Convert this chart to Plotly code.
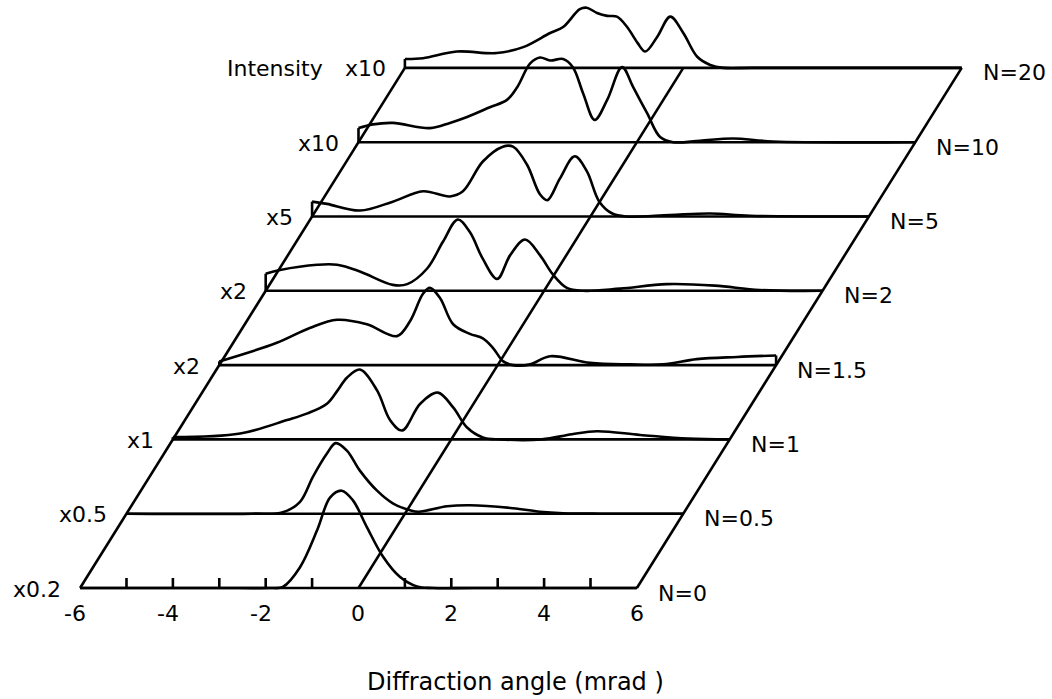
import plotly.graph_objects as go

# ---- data (angle in mrad, intensity in units of the level spacing) ----
levels = ["N=0", "N=0.5", "N=1", "N=1.5", "N=2", "N=5", "N=10", "N=20"]
scales = ["x0.2", "x0.5", "x1", "x2", "x2", "x5", "x10", "x10"]
tick_values = [-5, -4, -3, -2, -1, 1, 2, 3, 4, 5]
tick_labels = [-6, -4, -2, 0, 2, 4, 6]

angle_n0 = [-6, -2.6, -1.91, -1.63, -1.26, -0.89, -0.61, -0.36, -0.12, 0.18, 0.53, 0.89, 1.26, 1.61, 2.5, 6]
intensity_n0 = [0, 0, 0.0, 0.015, 0.28, 0.78, 1.22, 1.31, 1.18, 0.82, 0.42, 0.15, 0.02, 0.0, 0, 0]

angle_n05 = [-6, -3.3, -2.63, -2.26, -1.98, -1.68, -1.49, -1.25, -0.97, -0.60, -0.26, 0.11, 0.30, 0.91, 1.40, 2.33, 2.91, 3.41, 4.2, 6]
intensity_n05 = [0, 0, 0.02, 0.16, 0.50, 0.81, 0.95, 0.85, 0.58, 0.31, 0.14, 0.047, 0.027, 0.10, 0.114, 0.074, 0.027, 0.007, 0, 0]

angle_n1 = [-6, -4.55, -3.54, -3.1, -2.68, -2.45, -2.25, -1.97, -1.60, -1.32, -1.06, -0.67, -0.29, 0.04, 0.34, 0.68, 1.05, 1.95, 2.6, 3.14, 4.07, 5.1, 6]
intensity_n1 = [0.03, 0.08, 0.26, 0.35, 0.48, 0.66, 0.83, 0.94, 0.66, 0.26, 0.12, 0.48, 0.63, 0.43, 0.16, 0.027, 0, 0, 0.07, 0.11, 0.06, 0.01, 0]

angle_n15 = [-6, -4.76, -4.05, -3.46, -2.82, -2.17, -1.89, -1.61, -1.46, -1.24, -0.96, -0.60, -0.32, -0.10, 0.12, 0.33, 0.70, 1.13, 1.99, 2.85, 3.56, 4.29, 5.16, 6]
intensity_n15 = [0.05, 0.30, 0.50, 0.61, 0.55, 0.39, 0.59, 0.96, 1.04, 0.90, 0.55, 0.42, 0.36, 0.23, 0.05, 0, 0.01, 0.12, 0.03, 0.01, 0.01, 0.08, 0.11, 0.13]

angle_n2 = [-6, -5.69, -4.89, -4.46, -3.97, -3.26, -2.95, -2.52, -2.18, -1.86, -1.60, -1.32, -1.01, -0.73, -0.41, -0.09, 0.19, 0.49, 0.84, 1.64, 2.65, 3.68, 4.65, 6]
intensity_n2 = [0.23, 0.28, 0.35, 0.35, 0.26, 0.08, 0.09, 0.30, 0.66, 0.96, 0.79, 0.43, 0.16, 0.48, 0.69, 0.48, 0.22, 0.04, 0, 0.03, 0.09, 0.07, 0.01, 0]

angle_n5 = [-6, -5.68, -4.97, -4.26, -3.61, -3.03, -2.75, -2.32, -1.89, -1.67, -1.37, -1.09, -0.93, -0.66, -0.34, -0.08, 0.19, 0.47, 0.77, 1.71, 2.58, 3.44, 6]
intensity_n5 = [0.20, 0.17, 0.08, 0.20, 0.34, 0.27, 0.34, 0.74, 0.94, 0.94, 0.70, 0.30, 0.22, 0.51, 0.81, 0.61, 0.20, 0.04, 0, 0.02, 0.04, 0.01, 0]

angle_n10 = [-6, -5.69, -5.26, -4.46, -4.03, -3.66, -3.17, -2.80, -2.58, -2.30, -2.09, -1.87, -1.59, -1.38, -1.16, -0.91, -0.64, -0.32, -0.08, 0.22, 0.50, 0.78, 1.36, 2.07, 2.93, 6]
intensity_n10 = [0.19, 0.24, 0.26, 0.19, 0.26, 0.34, 0.47, 0.57, 0.74, 1.06, 1.14, 1.10, 1.12, 1.01, 0.66, 0.30, 0.57, 1.01, 0.74, 0.39, 0.07, 0, 0.02, 0.05, 0.01, 0]

angle_n20 = [-6, -5.61, -4.88, -4.02, -3.45, -2.87, -2.59, -2.23, -2.08, -1.86, -1.64, -1.43, -1.21, -0.99, -0.82, -0.56, -0.28, 0.0, 0.30, 0.58, 0.86, 1.5, 6]
intensity_n20 = [0.12, 0.13, 0.22, 0.20, 0.28, 0.47, 0.55, 0.79, 0.81, 0.74, 0.70, 0.69, 0.55, 0.34, 0.22, 0.42, 0.69, 0.47, 0.15, 0.04, 0, 0, 0]

curves = [
    (angle_n0, intensity_n0), (angle_n05, intensity_n05), (angle_n1, intensity_n1),
    (angle_n15, intensity_n15), (angle_n2, intensity_n2), (angle_n5, intensity_n5),
    (angle_n10, intensity_n10), (angle_n20, intensity_n20),
]

# ---- oblique projection: each level shifts by 1 mrad right and 1 unit up ----
X_MIN, X_MAX = -6, 6
DX, DY = 1.0, 1.0
n_lev = len(levels)
top = n_lev - 1

FONT = "DejaVu Sans"
FS = 22
LW = 2.6
fig = go.Figure()

# baselines
bx, by = [], []
for k in range(n_lev):
    bx += [X_MIN + k * DX, X_MAX + k * DX, None]
    by += [k * DY, k * DY, None]
fig.add_trace(go.Scatter(x=bx, y=by, mode="lines", line=dict(color="black", width=LW), hoverinfo="skip"))

# oblique edges and zero line
ex, ey = [], []
for a in (X_MIN, 0, X_MAX):
    ex += [a, a + top * DX, None]
    ey += [0, top * DY, None]
fig.add_trace(go.Scatter(x=ex, y=ey, mode="lines", line=dict(color="black", width=LW), hoverinfo="skip"))

# tick marks on the front baseline
tx, ty = [], []
for t in tick_values:
    tx += [t, t, None]
    ty += [0, 0.135, None]
fig.add_trace(go.Scatter(x=tx, y=ty, mode="lines", line=dict(color="black", width=LW), hoverinfo="skip"))

# curves
for k, (ang, inten) in enumerate(curves):
    xs = [a + k * DX for a in ang]
    ys = [k * DY + v for v in inten]
    fig.add_trace(go.Scatter(x=xs, y=ys, mode="lines",
                             line=dict(color="black", width=LW, shape="spline", smoothing=1.0),
                             hoverinfo="skip"))
    # vertical steps where a curve starts/ends above its baseline
    sx, sy = [], []
    if inten[0] > 0:
        sx += [xs[0], xs[0], None]
        sy += [k * DY, ys[0], None]
    if inten[-1] > 0:
        sx += [xs[-1], xs[-1], None]
        sy += [k * DY, ys[-1], None]
    if sx:
        fig.add_trace(go.Scatter(x=sx, y=sy, mode="lines", line=dict(color="black", width=LW), hoverinfo="skip"))

annotations = []
for k in range(n_lev):
    annotations.append(dict(x=X_MIN + k * DX, y=k * DY, text=scales[k], xref="x", yref="y",
                            xanchor="right", yanchor="middle", xshift=-17, yshift=-1,
                            showarrow=False, font=dict(family=FONT, size=FS, color="black")))
    annotations.append(dict(x=X_MAX + k * DX, y=k * DY, text=levels[k], xref="x", yref="y",
                            xanchor="left", yanchor="middle", xshift=19, yshift=-5,
                            showarrow=False, font=dict(family=FONT, size=FS, color="black")))
annotations.append(dict(x=X_MIN + top * DX, y=top * DY, text="Intensity", xref="x", yref="y",
                        xanchor="right", yanchor="middle", xshift=-80, yshift=-1,
                        showarrow=False, font=dict(family=FONT, size=FS, color="black")))
for v in tick_labels:
    annotations.append(dict(x=v, y=0, text=str(v), xref="x", yref="y",
                            xanchor="center", yanchor="middle", yshift=-25,
                            xshift=-5 if v < 0 else 0,
                            showarrow=False, font=dict(family=FONT, size=FS, color="black")))
annotations.append(dict(x=0.49, y=0.024, xref="paper", yref="paper", text="Diffraction angle (mrad )",
                        xanchor="center", yanchor="middle", showarrow=False,
                        font=dict(family=FONT, size=24, color="black")))

fig.update_layout(
    width=1052, height=699,
    margin=dict(l=0, r=0, t=0, b=0),
    paper_bgcolor="white", plot_bgcolor="white",
    showlegend=False,
    xaxis=dict(range=[-7.726, 14.946], visible=False, fixedrange=True),
    yaxis=dict(range=[-1.494, 7.914], visible=False, fixedrange=True),
    annotations=annotations,
)

fig.write_html("out.html")
